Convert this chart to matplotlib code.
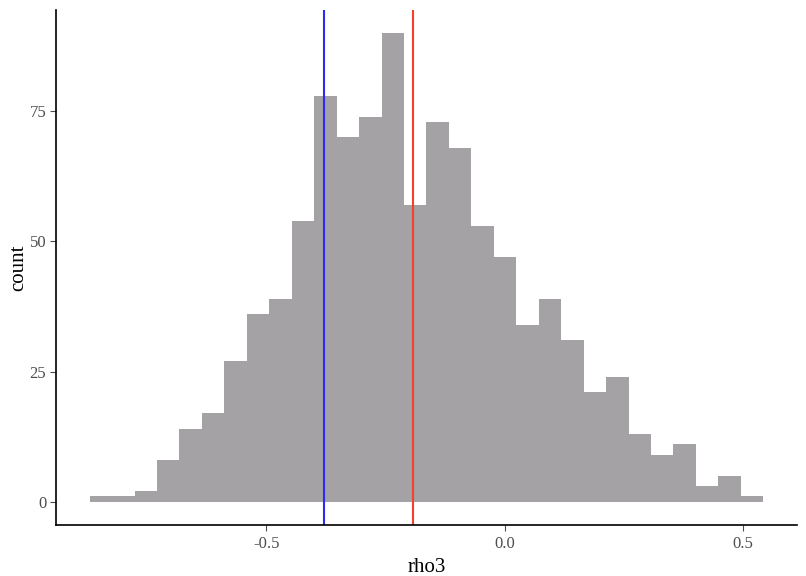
import numpy as np
import matplotlib
matplotlib.use("Agg")
import matplotlib.pyplot as plt

# histogram of rho3, 30 bins (counts)
bin_left = -0.870
bin_right = 0.5424
counts = [1, 1, 2, 8, 14, 17, 27, 36, 39, 54,
          78, 70, 74, 90, 57, 73, 68, 53, 47, 34,
          39, 31, 21, 24, 13, 9, 11, 3, 5, 1]
blue_x = -0.3795
red_x = -0.193
xticks = [-0.5, 0.0, 0.5]
xtick_labels = ["-0.5", "0.0", "0.5"]
yticks = [0, 25, 50, 75]

plt.rcParams["font.family"] = ["Liberation Serif", "DejaVu Serif"]

edges = np.linspace(bin_left, bin_right, len(counts) + 1)

fig = plt.figure(figsize=(8.06, 5.76), dpi=100)
ax = fig.add_axes([56 / 806, 51 / 576, 741 / 806, 515 / 576])

ax.stairs(counts, edges, fill=True, color="#a4a2a5", linewidth=0)
ax.axvline(blue_x, color="#2b2bf5", linewidth=1.5)
ax.axvline(red_x, color="#f5412b", linewidth=1.5)

span = bin_right - bin_left
ax.set_xlim(bin_left - 0.05 * span, bin_right + 0.05 * span)
ax.set_ylim(-0.05 * max(counts), 1.05 * max(counts))

ax.set_xticks(xticks)
ax.set_xticklabels(xtick_labels)
ax.set_yticks(yticks)
ax.tick_params(colors="#4d4d4d", labelsize=12, length=4, width=0.8)
ax.tick_params(axis="y", pad=3)
ax.tick_params(axis="x", pad=4)

for side in ["top", "right"]:
    ax.spines[side].set_visible(False)
for side in ["left", "bottom"]:
    ax.spines[side].set_linewidth(1.2)
    ax.spines[side].set_color("black")

ax.set_xlabel("rho3", fontsize=15, labelpad=4)
ax.set_ylabel("count", fontsize=15, labelpad=1)

fig.savefig("out.png", dpi=100)
